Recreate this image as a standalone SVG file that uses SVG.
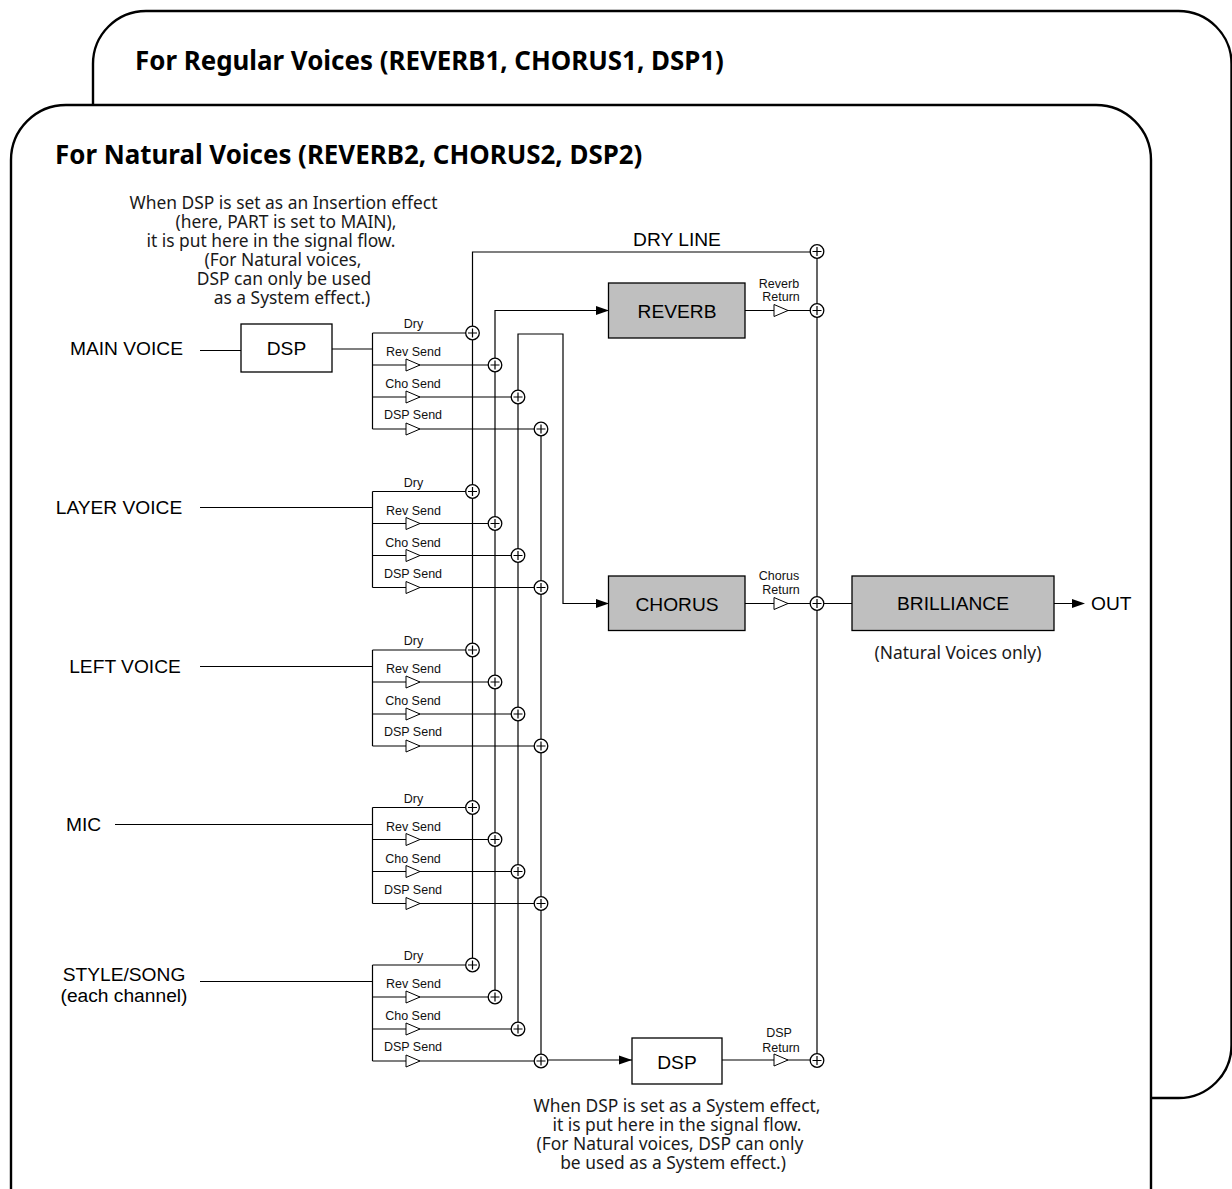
<svg xmlns="http://www.w3.org/2000/svg" xmlns:xlink="http://www.w3.org/1999/xlink" width="1232" height="1189" viewBox="0 0 1232 1189">
<style>
.fr{fill:#fff;stroke:#000;stroke-width:2.4}
.ln{fill:none;stroke:#000;stroke-width:1.2}
.box{stroke:#000;stroke-width:1.3}
.t{font-family:"Noto Sans","Open Sans",sans-serif;font-weight:700;font-size:25.9px;fill:#000}
.n{font-family:"Noto Sans","Open Sans",sans-serif;font-size:17.4px;fill:#1a1a1a;text-anchor:middle}
.a{font-family:"Liberation Sans",Arial,sans-serif;font-size:19.2px;fill:#000}
.s{font-family:"Liberation Sans",Arial,sans-serif;font-size:12.5px;fill:#111;text-anchor:middle}
.m{text-anchor:middle}
</style>
<defs>
<g id="sum"><circle r="6.8" fill="#fff" stroke="#000" stroke-width="1.3"/><path d="M-4.500 0H4.500M0-4.500V4.500" stroke="#000" stroke-width="1.200"/></g>
<path id="amp" d="M0-6V6L14 0Z" fill="#fff" stroke="#000" stroke-width="1"/>
<path id="arr" d="M0-4.500V4.500L13 0Z" fill="#000"/>
<g id="sends">
<path class="ln" d="M372.500 0V96M372.500 0H472M372.500 32H495M372.500 64H518M372.500 96H541"/>
<use href="#amp" x="406" y="32"/><use href="#amp" x="406" y="64"/><use href="#amp" x="406" y="96"/>
<text class="s" x="413.500" y="-5">Dry</text>
<text class="s" x="413.500" y="23">Rev Send</text>
<text class="s" x="413" y="55">Cho Send</text>
<text class="s" x="413" y="86">DSP Send</text>
<use href="#sum" x="472.500" y="0"/><use href="#sum" x="495" y="32"/><use href="#sum" x="518" y="64"/><use href="#sum" x="541" y="96"/>
</g>
</defs>
<g id="frame-regular"><rect class="fr" x="93" y="11" width="1138.500" height="1087" rx="53" ry="53"/>
<text class="t" x="135" y="70">For Regular Voices (REVERB1, CHORUS1, DSP1)</text></g>
<g id="frame-natural"><rect class="fr" x="11" y="105" width="1140" height="1140" rx="55" ry="55"/>
<text class="t" x="55" y="164">For Natural Voices (REVERB2, CHORUS2, DSP2)</text></g>
<g id="connectors">
<path class="ln" d="M472.500 965V252H817M495 997V310.500H609M518 1029V334H563V603.500H609M541 1060V429M541 1060H632M817 252V1060M745 310.500H817M745 603.500H852M722 1060H817M1054 603.500H1073M200 350.500H241M332 349H372.500M200 507.500H372.500M200 666.500H372.500M115 824.500H372.500M200 981.500H372.500"/>
<use href="#arr" x="596" y="310.500"/><use href="#arr" x="596" y="603.500"/><use href="#arr" x="619" y="1060"/><use href="#arr" x="1072" y="603.500"/>
<use href="#amp" x="774" y="310.500"/><use href="#amp" x="774" y="603.500"/><use href="#amp" x="774" y="1060"/>
<use href="#sum" x="817" y="251.500"/><use href="#sum" x="817" y="310.500"/><use href="#sum" x="817" y="603.500"/><use href="#sum" x="817" y="1060.500"/>
</g>
<g id="sends-main"><use href="#sends" y="333"/></g>
<g id="sends-layer"><use href="#sends" y="491.500"/></g>
<g id="sends-left"><use href="#sends" y="650"/></g>
<g id="sends-mic"><use href="#sends" y="807.500"/></g>
<g id="sends-style"><use href="#sends" y="965"/></g>
<g id="node-dsp-insert"><rect class="box" x="241" y="324" width="91" height="48" fill="#fff"/><text class="a m" x="286.500" y="355">DSP</text></g>
<g id="node-reverb"><rect class="box" x="608.500" y="283" width="136.500" height="55" fill="#bfbfbf"/><text class="a m" x="677" y="318">REVERB</text></g>
<g id="node-chorus"><rect class="box" x="608.500" y="576" width="136.500" height="54.500" fill="#bfbfbf"/><text class="a m" x="677" y="611">CHORUS</text></g>
<g id="node-brilliance"><rect class="box" x="852" y="576" width="202" height="54.500" fill="#bfbfbf"/><text class="a m" x="953" y="610">BRILLIANCE</text></g>
<g id="node-dsp-system"><rect class="box" x="632" y="1038" width="90" height="46" fill="#fff"/><text class="a m" x="677" y="1069">DSP</text></g>
<g id="labels">
<text class="a m" x="126.500" y="355">MAIN VOICE</text>
<text class="a m" x="119" y="514">LAYER VOICE</text>
<text class="a m" x="125" y="673">LEFT VOICE</text>
<text class="a" x="66" y="831">MIC</text>
<text class="a m" x="124" y="981"><tspan x="124">STYLE/SONG</tspan><tspan x="124" dy="21">(each channel)</tspan></text>
<text class="a" x="1091" y="610">OUT</text>
<text class="a m" x="677" y="246">DRY LINE</text>
<text class="s" x="779" y="288"><tspan x="779">Reverb</tspan><tspan x="781" dy="13">Return</tspan></text>
<text class="s" x="779" y="580"><tspan x="779">Chorus</tspan><tspan x="781" dy="14">Return</tspan></text>
<text class="s" x="779" y="1037"><tspan x="779">DSP</tspan><tspan x="781" dy="15">Return</tspan></text>
<text class="n" x="283.500" y="209"><tspan x="283.500">When DSP is set as an Insertion effect</tspan><tspan x="286" dy="19">(here, PART is set to MAIN),</tspan><tspan x="271" dy="19">it is put here in the signal flow.</tspan><tspan x="283" dy="19">(For Natural voices,</tspan><tspan x="284" dy="19">DSP can only be used</tspan><tspan x="292" dy="19">as a System effect.)</tspan></text>
<text class="n" x="958" y="659">(Natural Voices only)</text>
<text class="n" x="677" y="1112"><tspan x="677">When DSP is set as a System effect,</tspan><tspan x="677" dy="19">it is put here in the signal flow.</tspan><tspan x="670" dy="19">(For Natural voices, DSP can only</tspan><tspan x="673" dy="19">be used as a System effect.)</tspan></text>
</g>
</svg>
